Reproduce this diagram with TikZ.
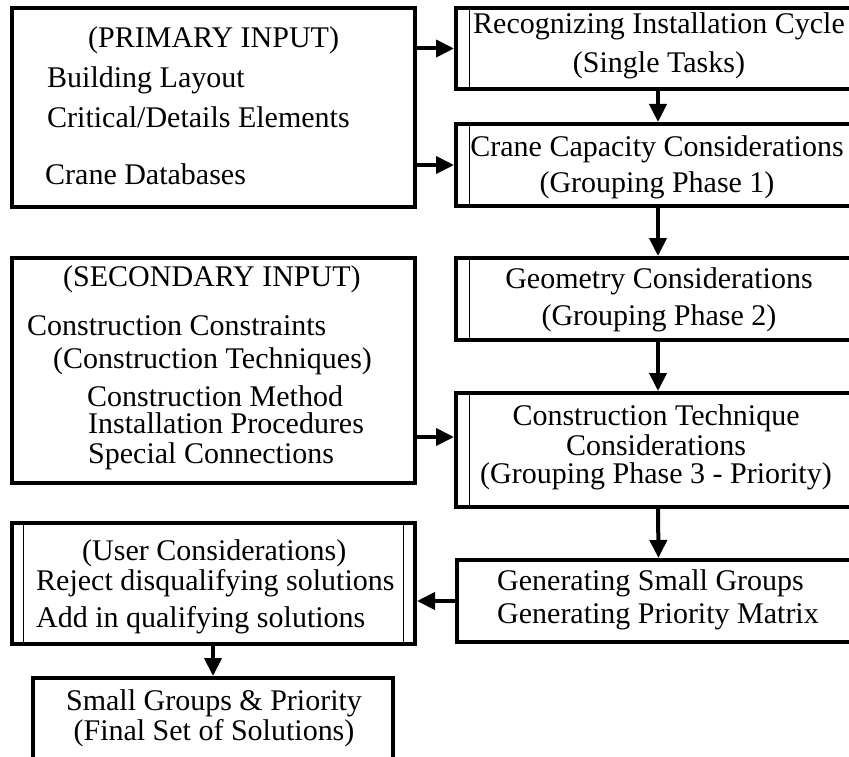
\documentclass[tikz,border=0pt]{standalone}
\usepackage{fontspec}
\setmainfont{Liberation Serif}
\usetikzlibrary{arrows.meta,positioning}

\begin{document}
\begin{tikzpicture}[x=1pt, y=-1pt, >={Triangle[length=18pt,width=17pt]},
  font=\fontsize{30}{30}\selectfont,
  box/.style={draw, line width=4pt, inner sep=0pt},
  dbl/.style={path picture={\draw[line width=1pt]
      ([xshift=13pt]path picture bounding box.north west) --
      ([xshift=13pt]path picture bounding box.south west);}},
  dblboth/.style={path picture={\draw[line width=1pt]
      ([xshift=11.5pt]path picture bounding box.north west) --
      ([xshift=11.5pt]path picture bounding box.south west)
      ([xshift=-12pt]path picture bounding box.north east) --
      ([xshift=-12pt]path picture bounding box.south east);}},
  txt/.style={inner sep=0pt},
  arr/.style={->, line width=4pt}]
\useasboundingbox (0,0) rectangle (849,757);

% left column
\node[box, minimum width=403pt, minimum height=199pt] (prim) at (213.5,107.5) {};
\node[box, minimum width=403pt, minimum height=225pt] (sec) at (213.5,370.5) {};
\node[box, dblboth, minimum width=403pt, minimum height=121pt] (user) at (213.5,583.5) {};
\node[box, minimum width=360pt, minimum height=92pt] (final) at (213,724) {};

% right column
\node[box, dbl, minimum width=404pt, minimum height=81pt] (rec) at (658,48.5) {};
\node[box, dbl, minimum width=404pt, minimum height=82pt] (crane) at (658,165) {};
\node[box, dbl, minimum width=404pt, minimum height=82pt] (geom) at (658,299) {};
\node[box, dbl, minimum width=404pt, minimum height=114pt] (tech) at (658,450) {};
\node[box, minimum width=403pt, minimum height=82pt] (gen) at (658.5,601) {};

% texts (base = last line)
\node[txt, anchor=base west, align=left] (prim-t) at (47,185)
  {\hspace*{41pt}(PRIMARY INPUT)\\[11pt]Building Layout\\[10pt]Critical/Details Elements\\[27pt]\hspace*{-2pt}Crane Databases};
\node[txt, anchor=base west, align=left] (sec-t) at (27,463)
  {\hspace*{36pt}(SECONDARY INPUT)\\[19pt]Construction Constraints\\[3pt]\hspace*{26pt}(Construction Techniques)\\[8pt]\hspace*{60pt}Construction Method\\[-3pt]\hspace*{61pt}Installation Procedures\\\hspace*{61pt}Special Connections};
\node[txt, anchor=base west, align=left] (user-t) at (36,627)
  {\hspace*{46pt}(User Considerations)\\Reject disqualifying solutions\\[7pt]Add in qualifying solutions};
\node[txt, anchor=base, align=center] (final-t) at (214,740)
  {Small Groups \& Priority\\(Final Set of Solutions)};
\node[txt, anchor=base, align=center] (rec-t) at (659,73)
  {Recognizing Installation Cycle\\[9pt](Single Tasks)};
\node[txt, anchor=base, align=center] (crane-t) at (657,193)
  {Crane Capacity Considerations\\[6pt](Grouping Phase 1)};
\node[txt, anchor=base, align=center] (geom-t) at (659,325)
  {Geometry Considerations\\[7pt](Grouping Phase 2)};
\node[txt, anchor=base, align=center] (tech-t) at (656,483)
  {Construction Technique\\Considerations\\[-2pt](Grouping Phase 3 - Priority)};
\node[txt, anchor=base west, align=left] (gen-t) at (497,623)
  {Generating Small Groups\\[3pt]Generating Priority Matrix};

% connectors
\draw[arr] (prim.east |- rec.west) -- (rec.west);
\draw[arr] (prim.east |- crane.west) -- (crane.west);
\draw[arr] (rec.south) -- (crane.north);
\draw[arr] (crane.south) -- (geom.north);
\draw[arr] (geom.south) -- (tech.north);
\draw[arr] ([yshift=13pt]sec.east |- tech.west) -- ([yshift=13pt]tech.west);
\draw[arr] (tech.south) -- (gen.north);
\draw[arr] (gen.west) -- (user.east |- gen.west);
\draw[arr] (user.south -| final.north) -- (final.north);
\end{tikzpicture}
\end{document}
